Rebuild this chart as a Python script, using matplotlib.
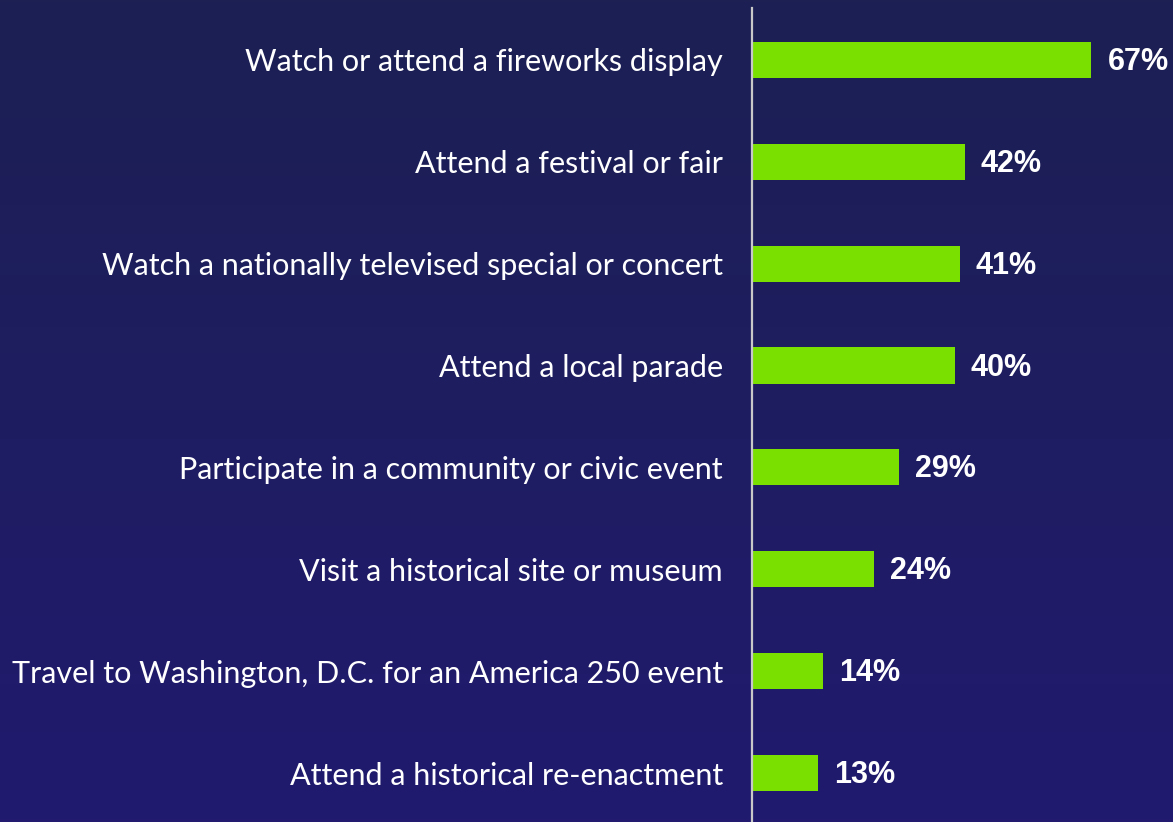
import matplotlib
import numpy as np

matplotlib.use("Agg")
import matplotlib.pyplot as plt  # noqa: E402
from matplotlib.colors import LinearSegmentedColormap  # noqa: E402

categories = [
    "Watch or attend a fireworks display",
    "Attend a festival or fair",
    "Watch a nationally televised special or concert",
    "Attend a local parade",
    "Participate in a community or civic event",
    "Visit a historical site or museum",
    "Travel to Washington, D.C. for an America 250 event",
    "Attend a historical re-enactment",
]
values = [67, 42, 41, 40, 29, 24, 14, 13]

BAR_COLOR = "#7ae000"
TOP_BG = "#1c2053"
BOTTOM_BG = "#211a6f"

fig = plt.figure(figsize=(11.73, 8.22), dpi=100)

# gradient background
bg = fig.add_axes([0, 0, 1, 1], zorder=0)
grad = np.linspace(0, 1, 256).reshape(-1, 1)
cmap = LinearSegmentedColormap.from_list("bg", [TOP_BG, BOTTOM_BG])
bg.imshow(grad, aspect="auto", cmap=cmap, extent=[0, 1, 0, 1], origin="upper")
bg.set_axis_off()

ax = fig.add_axes([752 / 1173, 0, 405 / 1173, 814 / 822], zorder=1)
ax.patch.set_alpha(0)

y = np.arange(len(categories))
ax.barh(y, values, height=0.355, color=BAR_COLOR)
ax.set_ylim(len(categories) - 1 + 0.481, -0.51)
ax.set_xlim(0, 80)

for yi, v in zip(y, values):
    ax.text(v + 3.2, yi + 0.02, f"{v}%", va="center", ha="left", color="white",
            fontsize=22, fontweight="bold", family="Liberation Sans")

ax.set_yticks(y)
ax.set_yticklabels(categories, color="white", fontsize=22, family="Lato")
ax.tick_params(axis="y", length=0, pad=21)
ax.set_xticks([])
for side in ["top", "right", "bottom"]:
    ax.spines[side].set_visible(False)
ax.spines["left"].set_color("#c8c8c8")
ax.spines["left"].set_linewidth(1.6)

fig.savefig("out.png", dpi=100)
